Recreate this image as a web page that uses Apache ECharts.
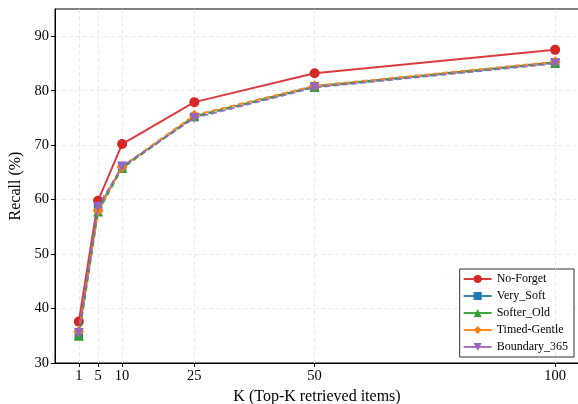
<!DOCTYPE html>
<html>
<head>
<meta charset="utf-8">
<script src="https://cdn.jsdelivr.net/npm/echarts@6/dist/echarts.min.js"></script>
<style>html,body{margin:0;padding:0;background:#fff;}#c{width:578px;height:404px;}</style>
</head>
<body>
<div id="c"></div>
<script>
const kValues = [1, 5, 10, 25, 50, 100];
const xTicks = [1, 5, 10, 25, 50, 100];
const yTicks = [30, 40, 50, 60, 70, 80, 90];
const seriesNames = ['No-Forget', 'Very_Soft', 'Softer_Old', 'Timed-Gentle', 'Boundary_365'];
const noForget    = [37.6, 59.8, 70.2, 77.9, 83.2, 87.5];
const verySoft    = [35.0, 58.4, 65.9, 75.2, 80.8, 85.2];
const softerOld   = [35.0, 57.8, 65.8, 75.3, 80.7, 85.1];
const timedGentle = [35.8, 58.0, 66.0, 75.5, 80.9, 85.3];
const boundary365 = [35.5, 58.7, 66.1, 75.0, 80.6, 85.0];

const font = 'Liberation Serif, Times New Roman, serif';
const colors = ['#d62728', '#1f77b4', '#2ca02c', '#ff7f0e', '#9467bd'];
const symbols = ['circle', 'rect', 'triangle', 'diamond', 'triangle'];
const rotates = [0, 0, 0, 0, 180];
const sizes = [10, 8.5, 10, 11, 10];
const allData = [noForget, verySoft, softerOld, timedGentle, boundary365];

const series = seriesNames.map((name, i) => ({
  name: name,
  type: 'line',
  zlevel: 1,
  z: 3 + i,
  data: kValues.map((k, j) => [k, allData[i][j]]),
  symbol: symbols[i],
  symbolRotate: rotates[i],
  symbolSize: sizes[i],
  showSymbol: true,
  itemStyle: { color: colors[i], borderWidth: 0 },
  lineStyle: { color: colors[i], width: 2, type: i === 0 ? 'solid' : [6, 3], opacity: 0.9 },
  emphasis: { disabled: true },
  animation: false
}));

series.push({
  type: 'line',
  name: '_grid',
  data: [],
  zlevel: 0,
  z: 1,
  silent: true,
  animation: false,
  markLine: {
    symbol: 'none',
    silent: true,
    animation: false,
    label: { show: false },
    lineStyle: { color: '#e3e3e3', type: [4, 3], width: 0.8 },
    data: xTicks.map(v => ({ xAxis: v }))
  }
});

const chart = echarts.init(document.getElementById('c'), null, { renderer: 'canvas' });
chart.setOption({
  backgroundColor: '#fff',
  animation: false,
  grid: { left: 55, right: -1, top: 9, bottom: 41, show: true, borderColor: '#000', borderWidth: 1, backgroundColor: 'transparent', containLabel: false, outerBoundsMode: 'none' },
  xAxis: {
    type: 'value',
    min: -3.95,
    max: 104.95,
    name: 'K (Top-K retrieved items)',
    nameLocation: 'middle',
    nameGap: 22,
    nameTextStyle: { fontFamily: font, fontSize: 16, color: '#000' },
    axisLine: { show: true, onZero: false, lineStyle: { color: '#000', width: 1 } },
    axisTick: { show: true, customValues: xTicks, length: 4, lineStyle: { color: '#000' } },
    axisLabel: { customValues: xTicks, fontFamily: font, fontSize: 14.5, color: '#000', margin: 6 },
    splitLine: { show: false }
  },
  yAxis: {
    type: 'value',
    min: 30,
    max: 95,
    interval: 10,
    name: 'Recall (%)',
    nameLocation: 'middle',
    nameGap: 27,
    nameTextStyle: { fontFamily: font, fontSize: 16, color: '#000' },
    axisLine: { show: true, onZero: false, lineStyle: { color: '#000', width: 1 } },
    axisTick: { show: true, customValues: yTicks, length: 4, lineStyle: { color: '#000' } },
    axisLabel: { customValues: yTicks, fontFamily: font, fontSize: 14.5, color: '#000', margin: 6 },
    splitLine: { show: true, lineStyle: { color: '#e3e3e3', type: [4, 3], width: 0.8 } }
  },
  legend: {
    data: seriesNames,
    orient: 'vertical',
    right: 4,
    bottom: 47,
    itemWidth: 28,
    itemHeight: 10,
    itemGap: 5,
    padding: [4, 6, 4, 3],
    borderColor: '#333',
    borderWidth: 1,
    backgroundColor: '#fff',
    lineStyle: { type: 'solid', width: 2 },
    textStyle: { fontFamily: font, fontSize: 12, color: '#000' }
  },
  series: series
});
</script>
</body>
</html>
